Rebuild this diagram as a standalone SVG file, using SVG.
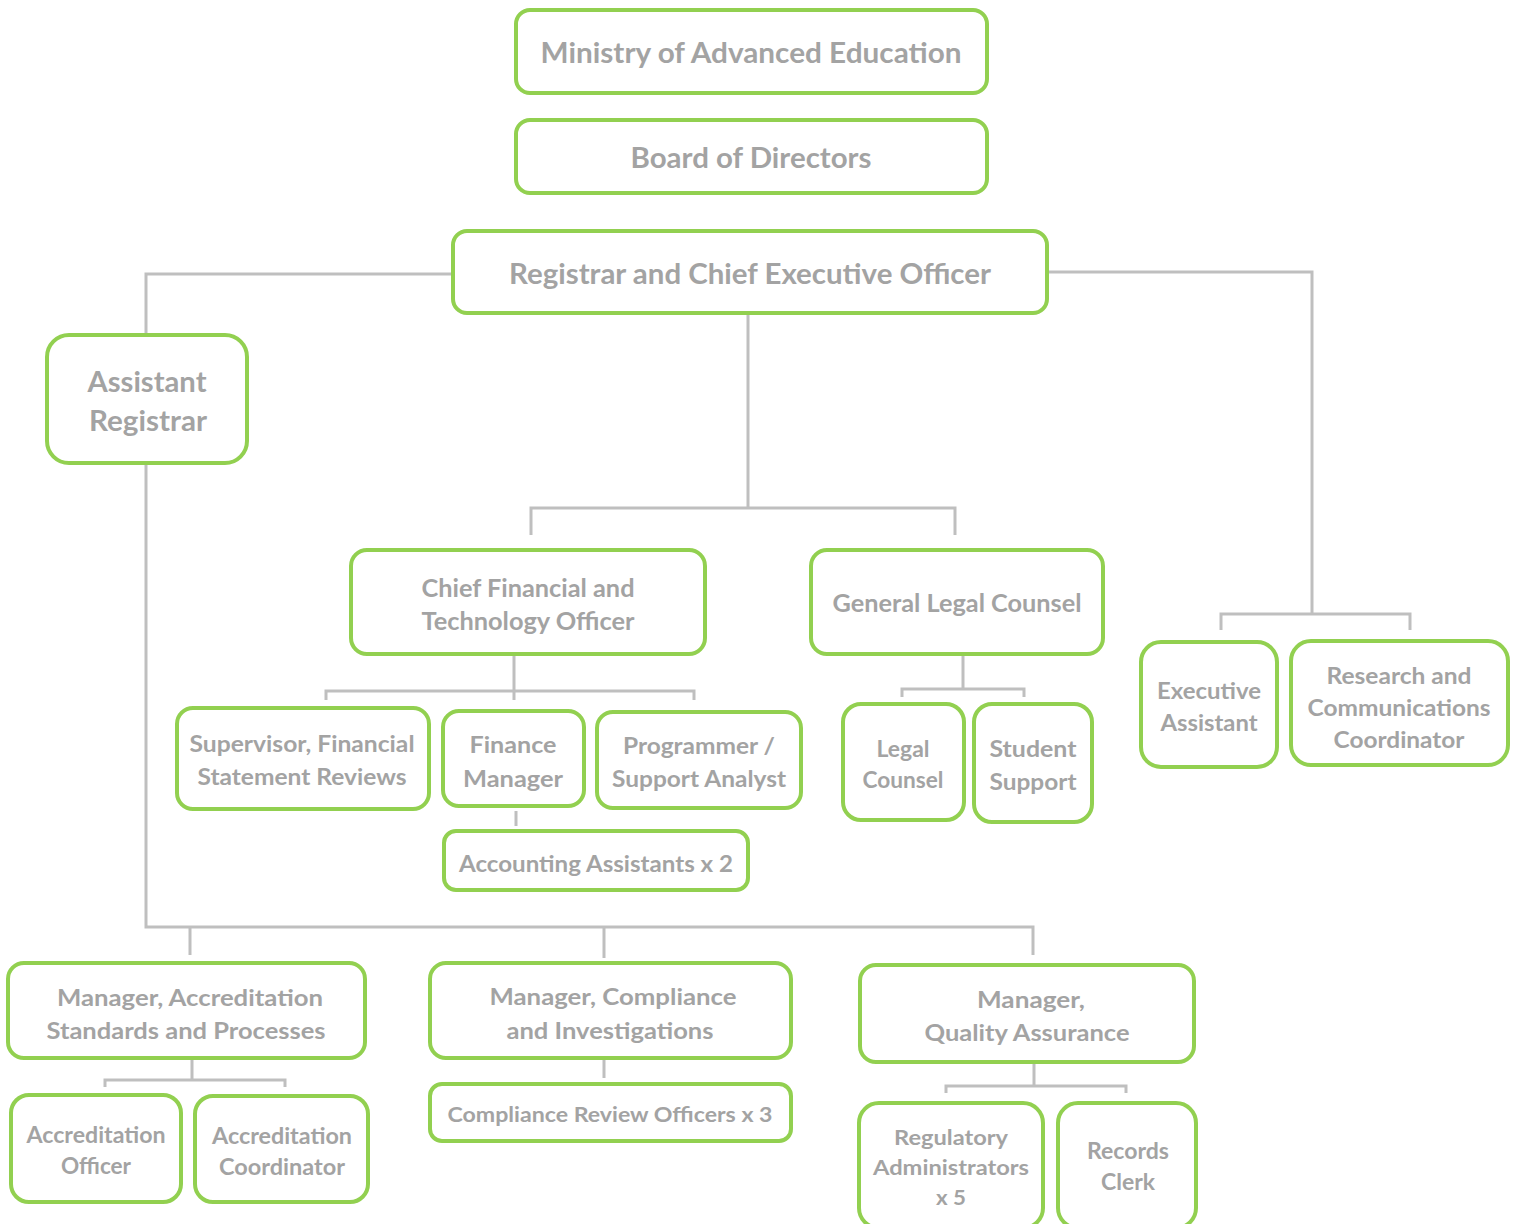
<svg xmlns="http://www.w3.org/2000/svg" width="1518" height="1224" viewBox="0 0 1518 1224">
<style>
.box{fill:#fff;stroke:#92D050;stroke-width:4}
.t{font-family:Lato,"Open Sans","Liberation Sans",sans-serif;font-weight:700;fill:#A3A3A3;text-anchor:middle;dominant-baseline:central}
.c{fill:none;stroke:#BFBFBF;stroke-width:3}
</style>
<rect width="1518" height="1224" fill="#fff"/>
<g id="connectors" class="c">
<path d="M453 274H146V335"/>
<path d="M1047 272H1312V613"/>
<path d="M1221 630V614H1410V630"/>
<path d="M748 313V507"/>
<path d="M531 535V508H955V535"/>
<path d="M514 654V700"/>
<path d="M326 700V691H694V700"/>
<path d="M516 811V826"/>
<path d="M963 654V689"/>
<path d="M902 697V689H1024V697"/>
<path d="M146 463V927H1033V955"/>
<path d="M190 927V955"/>
<path d="M604 927V958"/>
<path d="M192 1058V1080"/>
<path d="M105 1087V1080H285V1087"/>
<path d="M604 1060V1078"/>
<path d="M1034 1062V1086"/>
<path d="M946 1093V1086H1126V1093"/>
</g>
<g id="n-ministry"><rect class="box" x="516" y="10" width="471" height="83" rx="14"/><text class="t" x="751" y="52" font-size="28" textLength="421" lengthAdjust="spacingAndGlyphs">Ministry of Advanced Education</text></g>
<g id="n-board"><rect class="box" x="516" y="120" width="471" height="73" rx="14"/><text class="t" x="751" y="157" font-size="28" textLength="241" lengthAdjust="spacingAndGlyphs">Board of Directors</text></g>
<g id="n-registrar"><rect class="box" x="453" y="231" width="594" height="82" rx="14"/><text class="t" x="750" y="273" font-size="28" textLength="482" lengthAdjust="spacingAndGlyphs">Registrar and Chief Executive Officer</text></g>
<g id="n-asst-registrar"><rect class="box" x="47" y="335" width="200" height="128" rx="22"/><text class="t" x="147" y="381" font-size="28" textLength="119" lengthAdjust="spacingAndGlyphs">Assistant</text><text class="t" x="148" y="420" font-size="28" textLength="118" lengthAdjust="spacingAndGlyphs">Registrar</text></g>
<g id="n-cfto"><rect class="box" x="351" y="550" width="354" height="104" rx="16"/><text class="t" x="528" y="587" font-size="24" textLength="213" lengthAdjust="spacingAndGlyphs">Chief Financial and</text><text class="t" x="528" y="620" font-size="24" textLength="213" lengthAdjust="spacingAndGlyphs">Technology Officer</text></g>
<g id="n-glc"><rect class="box" x="811" y="550" width="292" height="104" rx="16"/><text class="t" x="957" y="602" font-size="24" textLength="249" lengthAdjust="spacingAndGlyphs">General Legal Counsel</text></g>
<g id="n-supervisor"><rect class="box" x="177" y="708" width="252" height="101" rx="16"/><text class="t" x="302" y="743" font-size="23" textLength="225" lengthAdjust="spacingAndGlyphs">Supervisor, Financial</text><text class="t" x="302" y="776" font-size="23" textLength="209" lengthAdjust="spacingAndGlyphs">Statement Reviews</text></g>
<g id="n-finance-mgr"><rect class="box" x="443" y="711" width="141" height="95" rx="16"/><text class="t" x="513" y="744" font-size="23" textLength="87" lengthAdjust="spacingAndGlyphs">Finance</text><text class="t" x="513" y="778" font-size="23" textLength="100" lengthAdjust="spacingAndGlyphs">Manager</text></g>
<g id="n-programmer"><rect class="box" x="597" y="712" width="204" height="96" rx="16"/><text class="t" x="699" y="745" font-size="23" textLength="152" lengthAdjust="spacingAndGlyphs">Programmer /</text><text class="t" x="699" y="778" font-size="23" textLength="174" lengthAdjust="spacingAndGlyphs">Support Analyst</text></g>
<g id="n-accounting"><rect class="box" x="444" y="831" width="304" height="59" rx="12"/><text class="t" x="596" y="863" font-size="22" textLength="274" lengthAdjust="spacingAndGlyphs">Accounting Assistants x 2</text></g>
<g id="n-legal-counsel"><rect class="box" x="843" y="704" width="121" height="116" rx="18"/><text class="t" x="903" y="748" font-size="22" textLength="53" lengthAdjust="spacingAndGlyphs">Legal</text><text class="t" x="903" y="779" font-size="22" textLength="81" lengthAdjust="spacingAndGlyphs">Counsel</text></g>
<g id="n-student-support"><rect class="box" x="974" y="704" width="118" height="118" rx="18"/><text class="t" x="1033" y="748" font-size="22" textLength="87" lengthAdjust="spacingAndGlyphs">Student</text><text class="t" x="1033" y="781" font-size="22" textLength="87" lengthAdjust="spacingAndGlyphs">Support</text></g>
<g id="n-exec-assistant"><rect class="box" x="1141" y="642" width="136" height="125" rx="20"/><text class="t" x="1209" y="690" font-size="22" textLength="104" lengthAdjust="spacingAndGlyphs">Executive</text><text class="t" x="1209" y="722" font-size="22" textLength="97" lengthAdjust="spacingAndGlyphs">Assistant</text></g>
<g id="n-research"><rect class="box" x="1291" y="641" width="217" height="124" rx="20"/><text class="t" x="1399" y="675" font-size="22" textLength="145" lengthAdjust="spacingAndGlyphs">Research and</text><text class="t" x="1399" y="707" font-size="22" textLength="183" lengthAdjust="spacingAndGlyphs">Communications</text><text class="t" x="1399" y="739" font-size="22" textLength="131" lengthAdjust="spacingAndGlyphs">Coordinator</text></g>
<g id="n-mgr-accreditation"><rect class="box" x="8" y="963" width="357" height="95" rx="16"/><text class="t" x="190" y="997" font-size="23" textLength="266" lengthAdjust="spacingAndGlyphs">Manager, Accreditation</text><text class="t" x="186" y="1030" font-size="23" textLength="279" lengthAdjust="spacingAndGlyphs">Standards and Processes</text></g>
<g id="n-mgr-compliance"><rect class="box" x="430" y="963" width="361" height="95" rx="16"/><text class="t" x="613" y="996" font-size="23" textLength="247" lengthAdjust="spacingAndGlyphs">Manager, Compliance</text><text class="t" x="610" y="1030" font-size="23" textLength="207" lengthAdjust="spacingAndGlyphs">and Investigations</text></g>
<g id="n-mgr-qa"><rect class="box" x="860" y="965" width="334" height="97" rx="16"/><text class="t" x="1031" y="999" font-size="23" textLength="108" lengthAdjust="spacingAndGlyphs">Manager,</text><text class="t" x="1027" y="1032" font-size="23" textLength="205" lengthAdjust="spacingAndGlyphs">Quality Assurance</text></g>
<g id="n-accr-officer"><rect class="box" x="11" y="1095" width="170" height="107" rx="18"/><text class="t" x="96" y="1134" font-size="22" textLength="139" lengthAdjust="spacingAndGlyphs">Accreditation</text><text class="t" x="96" y="1165" font-size="22" textLength="70" lengthAdjust="spacingAndGlyphs">Officer</text></g>
<g id="n-accr-coordinator"><rect class="box" x="195" y="1096" width="173" height="106" rx="18"/><text class="t" x="282" y="1135" font-size="22" textLength="140" lengthAdjust="spacingAndGlyphs">Accreditation</text><text class="t" x="282" y="1166" font-size="22" textLength="126" lengthAdjust="spacingAndGlyphs">Coordinator</text></g>
<g id="n-compliance-officers"><rect class="box" x="430" y="1084" width="361" height="57" rx="12"/><text class="t" x="610" y="1113" font-size="21" textLength="325" lengthAdjust="spacingAndGlyphs">Compliance Review Officers x 3</text></g>
<g id="n-reg-admin"><rect class="box" x="859" y="1103" width="184" height="125" rx="20"/><text class="t" x="951" y="1136" font-size="21" textLength="114" lengthAdjust="spacingAndGlyphs">Regulatory</text><text class="t" x="951" y="1166" font-size="21" textLength="156" lengthAdjust="spacingAndGlyphs">Administrators</text><text class="t" x="951" y="1196" font-size="21" textLength="30" lengthAdjust="spacingAndGlyphs">x 5</text></g>
<g id="n-records-clerk"><rect class="box" x="1058" y="1103" width="138" height="125" rx="20"/><text class="t" x="1128" y="1150" font-size="22" textLength="82" lengthAdjust="spacingAndGlyphs">Records</text><text class="t" x="1128" y="1181" font-size="22" textLength="54" lengthAdjust="spacingAndGlyphs">Clerk</text></g>
</svg>
